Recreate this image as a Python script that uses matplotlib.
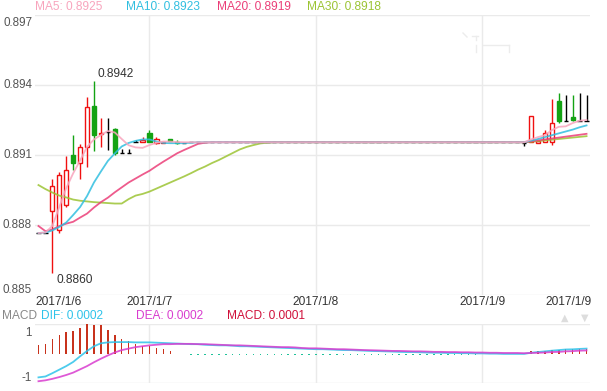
import numpy as np
import matplotlib
matplotlib.use("Agg")
import matplotlib.pyplot as plt
from matplotlib.lines import Line2D

plt.rcParams["font.family"] = ["Liberation Sans", "DejaVu Sans"]

# hourly candles, 2017/1/6 08:00 .. 2017/1/9 15:00
F = 0.89158
opens = [0.8877, 0.8877, 0.88863, 0.88783, 0.88891, 0.89102, 0.89071, 0.89139, 0.89313, 0.89192,
         0.8920, 0.89213, 0.89111, 0.89111, 0.8916, 0.8916, 0.89196, 0.89155, 0.89156, 0.8917,
         0.8916, 0.89156] + [F] * 48 + \
        [0.89154, 0.8916, 0.89156, 0.8916, 0.8916, 0.89334, 0.8925, 0.89265, 0.8925, 0.8925]
closes = [0.8877, 0.8877, 0.88971, 0.89017, 0.89039, 0.89071, 0.89136, 0.89307, 0.8919, 0.89199,
          0.8920, 0.89111, 0.89111, 0.89111, 0.8916, 0.89168, 0.8916, 0.8917, 0.8916, 0.89162,
          0.89155, 0.89156] + [F] * 48 + \
         [0.89154, 0.8927, 0.89163, 0.89196, 0.89239, 0.8925, 0.8925, 0.89253, 0.8925, 0.8925]
highs = [0.8877, 0.8877, 0.88999, 0.89031, 0.89099, 0.89189, 0.89151, 0.8935, 0.8942, 0.8926,
         0.8926, 0.8922, 0.89128, 0.89128, 0.89167, 0.89182, 0.8921, 0.8918, 0.8916, 0.8917,
         0.89168, 0.89156] + [F] * 48 + \
        [0.89158, 0.8927, 0.89163, 0.8921, 0.89342, 0.8937, 0.8936, 0.8936, 0.8937, 0.8936]
lows = [0.8877, 0.8877, 0.8860, 0.88769, 0.88882, 0.89039, 0.88999, 0.89051, 0.89121, 0.89139,
        0.89125, 0.89105, 0.89111, 0.89111, 0.8916, 0.8916, 0.8916, 0.8915, 0.89156, 0.89162,
        0.8915, 0.89156] + [F] * 48 + \
       [0.8914, 0.8916, 0.89156, 0.8916, 0.89146, 0.89242, 0.8925, 0.8925, 0.8925, 0.8925]

ma5 = [0.8877, 0.88772, 0.8880, 0.88881, 0.88962, 0.89025, 0.8908, 0.89138, 0.8917, 0.89189,
       0.89206, 0.892, 0.89172, 0.89145, 0.89136, 0.89134, 0.89146, 0.89156, 0.89161, 0.89161,
       0.89159] + [F] * 50 + \
      [0.8917, 0.8918, 0.89188, 0.8921, 0.89224, 0.89226, 0.8924, 0.8925, 0.89253]
ma10 = [0.8877, 0.88772, 0.88781, 0.88796, 0.88815, 0.88847, 0.88881, 0.88928, 0.88986, 0.89033,
        0.89078, 0.8911, 0.8914, 0.89155, 0.89164, 0.8917, 0.8917, 0.89161, 0.89155, 0.89154,
        0.89154, 0.89154, 0.89156] + [F] * 48 + \
       [0.89165, 0.89172, 0.8918, 0.89188, 0.89196, 0.89204, 0.89212, 0.89222, 0.8923]
ma20 = [0.888, 0.88778, 0.88785, 0.888, 0.8881, 0.88818, 0.88836, 0.88853, 0.88879, 0.88902,
        0.88921, 0.88944, 0.88965, 0.88986, 0.89003, 0.8902, 0.89036, 0.89056, 0.89075, 0.89093,
        0.89111, 0.89125, 0.89138, 0.89151, 0.89156] + [F] * 46 + \
       [0.89162, 0.89166, 0.8917, 0.89174, 0.89178, 0.89182, 0.89186, 0.8919, 0.89194]
ma30 = [0.88975, 0.88958, 0.88943, 0.8893, 0.88922, 0.88913, 0.88908, 0.88905, 0.88902, 0.889,
        0.88898, 0.88896, 0.88896, 0.88915, 0.8893, 0.88937, 0.88947, 0.8896, 0.88973, 0.88986,
        0.88999, 0.89012, 0.89026, 0.89041, 0.89054, 0.89069, 0.89082, 0.89097, 0.89112, 0.89127,
        0.89138, 0.89146, 0.89153, 0.89156] + [F] * 37 + \
       [0.8916, 0.89163, 0.89166, 0.89169, 0.89172, 0.89175, 0.89178, 0.89181, 0.89184]

dif = [-0.80, -0.77, -0.66, -0.54, -0.42, -0.28, -0.09, 0.09, 0.25, 0.35,
       0.38, 0.39, 0.39, 0.39, 0.38, 0.38, 0.38, 0.37, 0.36, 0.35,
       0.34, 0.33, 0.32, 0.32, 0.30, 0.29, 0.28, 0.28, 0.27, 0.25,
       0.25, 0.24, 0.23, 0.22, 0.21, 0.20, 0.19, 0.18, 0.17, 0.16,
       0.15, 0.15, 0.14, 0.13, 0.12, 0.12, 0.11, 0.10, 0.09, 0.085,
       0.077, 0.07, 0.06, 0.054, 0.054, 0.046, 0.038, 0.03, 0.03, 0.023,
       0.023, 0.015, 0.015, 0.008, 0.008, 0.0, 0.0, -0.008, -0.008, -0.008,
       -0.008, 0.03, 0.054, 0.077, 0.10, 0.12, 0.14, 0.146, 0.16, 0.17]
dea = [-0.93, -0.90, -0.85, -0.79, -0.72, -0.64, -0.53, -0.42, -0.29, -0.17,
       -0.06, 0.04, 0.12, 0.17, 0.22, 0.25, 0.28, 0.30, 0.32, 0.32,
       0.33, 0.33, 0.33, 0.32, 0.32, 0.31, 0.30, 0.29, 0.28, 0.28,
       0.27, 0.26, 0.25, 0.24, 0.23, 0.22, 0.22, 0.21, 0.19, 0.18,
       0.18, 0.17, 0.16, 0.15, 0.15, 0.14, 0.13, 0.12, 0.115, 0.108,
       0.10, 0.092, 0.092, 0.085, 0.077, 0.077, 0.07, 0.06, 0.06, 0.054,
       0.054, 0.046, 0.046, 0.038, 0.038, 0.03, 0.03, 0.023, 0.023, 0.023,
       0.015, 0.023, 0.03, 0.038, 0.054, 0.06, 0.077, 0.085, 0.10, 0.108]
hist = [0.30, 0.32, 0.49, 0.64, 0.73, 0.78, 0.87, 1.0, 0.98, 0.95,
        0.81, 0.64, 0.49, 0.44, 0.32, 0.27, 0.25, 0.19, 0.14, 0.08,
        0.0, 0.0] + [-0.05] * 42 + [-0.015] * 7 + \
       [0.08, 0.09, 0.09, 0.11, 0.12, 0.14, 0.15, 0.15, 0.14]

date_ticks = [0, 16, 40, 64, 79]
date_labels = ["2017/1/6", "2017/1/7", "2017/1/8", "2017/1/9", "2017/1/9"]
ma_labels = ["MA5: 0.8925", "MA10: 0.8923", "MA20: 0.8919", "MA30: 0.8918"]

n = len(closes)
x = np.arange(n)
o, c, h, l = map(np.array, (opens, closes, highs, lows))

RED, GREEN = "#f01010", "#13a313"
MA_COLORS = ["#f8a5bd", "#31bfe0", "#eb3e78", "#9cc434"]
GRID = "#eaeaea"
LABEL = "#555555"

fig = plt.figure(figsize=(6.07, 3.91), dpi=100)
W, H = 607, 391
ax = fig.add_axes([35 / W, 96 / H, 555 / W, 280 / H])
ax2 = fig.add_axes([35 / W, 7.7 / H, 555 / W, 59.3 / H])

ymin, ymax = 0.88505, 0.89702
ax.set_xlim(-0.5, n - 0.5)
ax.set_ylim(ymin, ymax)
yt = np.linspace(ymin, ymax, 5)
for v in yt:
    ax.axhline(v, color=GRID, lw=1, zorder=0)
for t in date_ticks[1:4]:
    ax.axvline(t, color=GRID, lw=1, zorder=0)
ax.set_xticks([])
ax.set_yticks([])
for s in ax.spines.values():
    s.set_visible(False)

# y labels: end labels are pushed inside the plot band
shift = [5, 0, 0, 0, -8]
for v, dy in zip(yt, shift):
    ax.annotate("%.3f" % v, (0, v), xycoords=("axes fraction", "data"),
                xytext=(-3, dy), textcoords="offset pixels",
                ha="right", va="center", fontsize=8.4, color=LABEL)

# candles
up = c > o
down = c < o
flat = c == o
w = 0.62
ax.vlines(x[up], l[up], h[up], color=RED, lw=1, zorder=2)
ax.vlines(x[down], l[down], h[down], color=GREEN, lw=1, zorder=2)
ax.vlines(x[flat], l[flat], h[flat], color="black", lw=1, zorder=2)
ax.bar(x[up], (c - o)[up], bottom=o[up], width=w, facecolor="white",
       edgecolor=RED, lw=1, zorder=3)
ax.bar(x[down], (o - c)[down], bottom=c[down], width=w, facecolor=GREEN,
       edgecolor=GREEN, lw=1, zorder=3)
ax.hlines(c[flat], x[flat] - w / 2, x[flat] + w / 2, color="black", lw=1, zorder=3)

# moving averages
for vals, col in zip([ma30, ma20, ma10, ma5], MA_COLORS[::-1]):
    ax.plot(x, vals, color=col, lw=1.3, alpha=0.85, zorder=4)

i_hi = int(np.argmax(h))
i_lo = int(np.argmin(l))
ax.annotate("%.4f" % h[i_hi], (x[i_hi], h[i_hi]), xytext=(4, 7), textcoords="offset pixels",
            ha="left", va="center", fontsize=8.6, color="#333333")
ax.annotate("%.4f" % l[i_lo], (x[i_lo], l[i_lo]), xytext=(4, -7), textcoords="offset pixels",
            ha="left", va="center", fontsize=8.6, color="#333333")

# date labels
for t, lab in zip(date_ticks, date_labels):
    xp = 35 + (t + 0.5) / n * 555
    ha = "center"
    if t == 0:
        xp, ha = 35, "left"
    elif t == n - 1:
        xp, ha = 592, "right"
    fig.text(xp / W, 1 - 302 / H, lab, ha=ha, va="center", fontsize=8.6, color="#333333")

# top legend
for xp, lab, col in zip([35, 126, 217, 307], ma_labels, MA_COLORS):
    fig.text(xp / W, 1 - 7 / H, lab, ha="left", va="center", fontsize=8.6, color=col)

# faint leftover marks near the top right
for xs, ys in [([483, 509], [45, 45]), ([509, 509], [45, 52]), ([472, 478], [36, 36]),
               ([475.5, 475.5], [36, 40]), ([476, 476], [45, 52]), ([463, 467], [33, 37])]:
    fig.add_artist(Line2D([v / W for v in xs], [1 - v / H for v in ys], color="#ececec", lw=1))

# MACD panel
ax2.set_xlim(-0.5, n - 0.5)
ax2.set_ylim(-1, 1)
hist_a = np.array(hist)
hcol = np.where(hist_a >= 0, "#c8321c", "#1fc29a")
ax2.bar(x, hist_a, width=0.22, color=hcol, zorder=2)
ax2.plot(x, dif, color="#2ec3ea", lw=1.3, alpha=0.85, zorder=3)
ax2.plot(x, dea, color="#d93ccf", lw=1.3, alpha=0.85, zorder=3)
ax2.axhline(1, color=GRID, lw=1, zorder=0)
ax2.axhline(-1, color=GRID, lw=1, zorder=0)
for t in date_ticks[1:4]:
    ax2.axvline(t, color=GRID, lw=1, zorder=0)
ax2.set_xticks([])
ax2.set_yticks([])
for s in ax2.spines.values():
    s.set_visible(False)
for v, dy in zip([1, -1], [-9, 5]):
    ax2.annotate("%d" % v, (0, v), xycoords=("axes fraction", "data"),
                 xytext=(-3, dy), textcoords="offset pixels",
                 ha="right", va="center", fontsize=8.4, color=LABEL)

for xp, lab, col in zip([2, 41, 136, 227],
                        ["MACD", "DIF: 0.0002", "DEA: 0.0002", "MACD: 0.0001"],
                        ["#888888", "#2ec3ea", "#d93ccf", "#d0103a"]):
    fig.text(xp / W, 1 - 316 / H, lab, ha="left", va="center", fontsize=8.6, color=col)
fig.text(565 / W, 1 - 318 / H, "\u25b2", ha="center", va="center", fontsize=7,
         color="#dddddd", family="DejaVu Sans")
fig.text(585 / W, 1 - 318 / H, "\u25bc", ha="center", va="center", fontsize=7,
         color="#dddddd", family="DejaVu Sans")

fig.savefig("out.png", dpi=100)
